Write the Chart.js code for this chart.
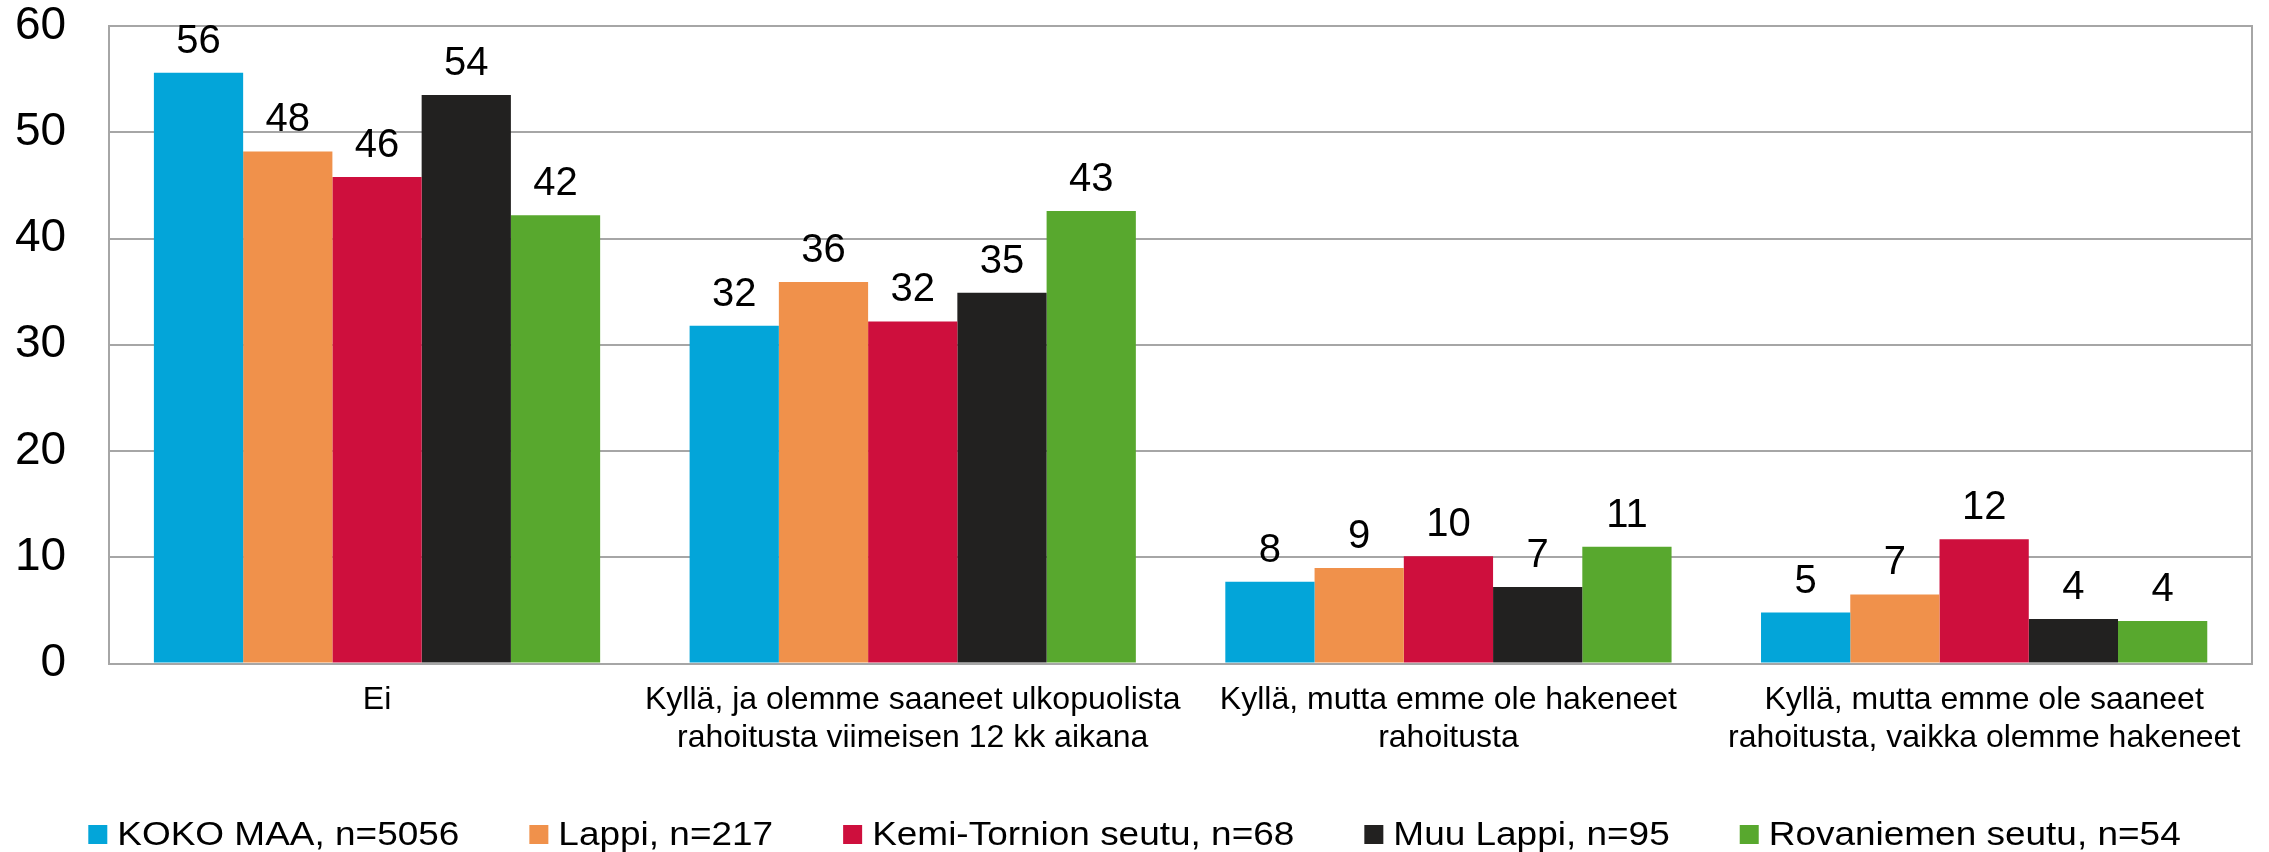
<!DOCTYPE html>
<html>
<head>
<meta charset="utf-8">
<script src="https://cdn.jsdelivr.net/npm/chart.js@4/dist/chart.umd.min.js"></script>
<style>
  html, body { margin: 0; padding: 0; background: #ffffff; }
  #wrap { width: 2269px; height: 852px; }
</style>
</head>
<body>
<div id="wrap"><canvas id="c" width="2269" height="852"></canvas></div>
<script>
const categories = [
  "Ei",
  ["Kyllä, ja olemme saaneet ulkopuolista", "rahoitusta viimeisen 12 kk aikana"],
  ["Kyllä, mutta emme ole hakeneet", "rahoitusta"],
  ["Kyllä, mutta emme ole saaneet", "rahoitusta, vaikka olemme hakeneet"]
];
const seriesNames = [
  "KOKO MAA, n=5056",
  "Lappi, n=217",
  "Kemi-Tornion seutu, n=68",
  "Muu Lappi, n=95",
  "Rovaniemen seutu, n=54"
];
const kokoMaa   = [55.6, 31.8, 7.7, 4.8];
const lappi     = [48.2, 35.9, 9.0, 6.5];
const kemiTornio= [45.8, 32.2, 10.1, 11.7];
const muuLappi  = [53.5, 34.9, 7.2, 4.2];
const rovaniemi = [42.2, 42.6, 11.0, 4.0];
const yTicks = [0, 10, 20, 30, 40, 50, 60];

const colors = ["#03A5D9", "#F0914B", "#CE0F3D", "#222120", "#58A82E"];
const seriesValues = [kokoMaa, lappi, kemiTornio, muuLappi, rovaniemi];
const FONT = '"Liberation Sans", Arial, Helvetica, sans-serif';
const GRID = '#a6a6a6';
const CLEAR = 'rgba(0,0,0,0)';

const valueLabels = {
  id: 'valueLabels',
  afterDatasetsDraw(chart) {
    const ctx = chart.ctx;
    ctx.save();
    ctx.font = '40px ' + FONT;
    ctx.fillStyle = '#000';
    ctx.textAlign = 'center';
    ctx.textBaseline = 'alphabetic';
    chart.data.datasets.forEach((ds, di) => {
      const meta = chart.getDatasetMeta(di);
      meta.data.forEach((bar, i) => {
        ctx.fillText(String(Math.round(ds.data[i])), bar.x, bar.y - 20);
      });
    });
    ctx.restore();
  }
};

const frame = {
  id: 'frame',
  beforeDatasetsDraw(chart) {
    const {ctx, chartArea} = chart;
    ctx.save();
    ctx.strokeStyle = GRID;
    ctx.lineWidth = 2;
    ctx.beginPath();
    ctx.moveTo(chartArea.right, chartArea.top - 1);
    ctx.lineTo(chartArea.right, chartArea.bottom + 1);
    ctx.stroke();
    ctx.restore();
  }
};

const legendDraw = {
  id: 'legendDraw',
  afterDraw(chart) {
    const ctx = chart.ctx;
    ctx.save();
    const sx = 1.12;
    ctx.font = '33px ' + FONT;
    const items = chart.data.datasets.map(ds => ({
      text: ds.label, color: ds.backgroundColor,
      w: ctx.measureText(ds.label).width * sx
    }));
    const box = 19, gap = 10, spacing = 70;
    const total = items.reduce((s, it) => s + box + gap + it.w, 0) + spacing * (items.length - 1);
    let x = (chart.width - total) / 2;
    const baseline = chart.height - 7;
    items.forEach(it => {
      ctx.fillStyle = it.color;
      ctx.fillRect(x, baseline - 20, box, box);
      ctx.save();
      ctx.translate(x + box + gap, baseline);
      ctx.scale(sx, 1);
      ctx.fillStyle = '#000';
      ctx.textBaseline = 'alphabetic';
      ctx.textAlign = 'left';
      ctx.fillText(it.text, 0, 0);
      ctx.restore();
      x += box + gap + it.w + spacing;
    });
    ctx.restore();
  }
};

new Chart(document.getElementById('c'), {
  type: 'bar',
  data: {
    labels: categories,
    datasets: seriesNames.map((name, k) => ({
      label: name,
      data: seriesValues[k],
      backgroundColor: colors[k],
      borderWidth: 0,
      categoryPercentage: 0.833,
      barPercentage: 1.0
    }))
  },
  options: {
    responsive: false,
    devicePixelRatio: 1,
    animation: false,
    layout: { padding: { left: 15, right: 17, top: 0, bottom: 94 } },
    plugins: {
      legend: { display: false },
      tooltip: { enabled: false },
      title: { display: false }
    },
    scales: {
      x: {
        grid: { display: true, color: CLEAR, tickColor: CLEAR, drawTicks: true, tickLength: 17 },
        border: { display: true, color: GRID, width: 2 },
        ticks: {
          color: '#000',
          font: { family: FONT, size: 32, lineHeight: 1.21 },
          padding: 0,
          maxRotation: 0, minRotation: 0, autoSkip: false
        }
      },
      y: {
        min: 0, max: 60,
        afterBuildTicks(scale) { scale.ticks = yTicks.map(v => ({ value: v })); },
        grid: { color: GRID, lineWidth: 2, drawTicks: true, tickLength: 43, tickColor: CLEAR },
        border: { display: true, color: GRID, width: 2 },
        ticks: {
          color: '#000',
          font: { family: FONT, size: 46, lineHeight: 1.13 },
          padding: 0
        }
      }
    }
  },
  plugins: [frame, valueLabels, legendDraw]
});
</script>
</body>
</html>
